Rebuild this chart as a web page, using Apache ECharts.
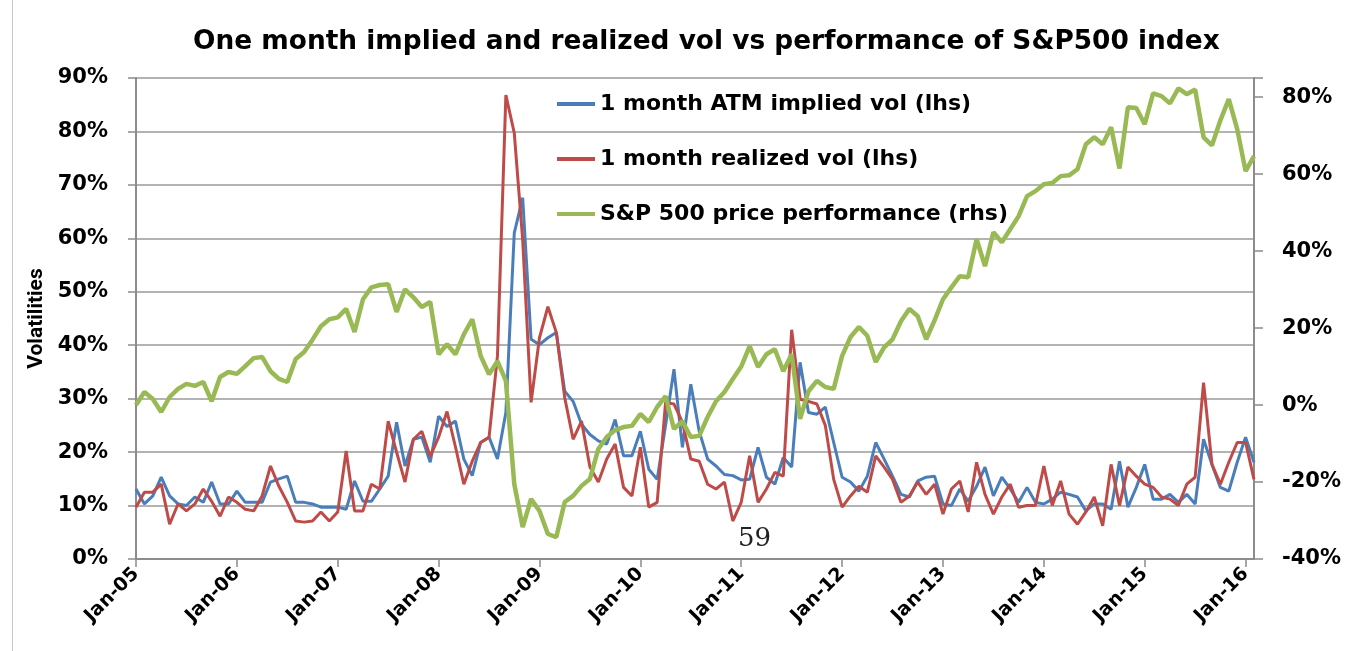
<!DOCTYPE html>
<html>
<head>
<meta charset="utf-8">
<title>Implied vs realized vol</title>
<script src="https://cdn.jsdelivr.net/npm/echarts@6/dist/echarts.min.js"></script>
<style>
  html, body { margin: 0; padding: 0; background: #fff; }
  #chart { width: 1371px; height: 651px; }
</style>
</head>
<body>
<div id="chart"></div>
<script>
// monthly, Jan-05 .. Feb-16
const years = ['05', '06', '07', '08', '09', '10', '11', '12', '13', '14', '15', '16'];
const months = ['Jan', 'Feb', 'Mar', 'Apr', 'May', 'Jun', 'Jul', 'Aug', 'Sep', 'Oct', 'Nov', 'Dec'];
const categories = [];
years.forEach(y => months.forEach(m => categories.push(m + '-' + y)));
categories.length = 134;

const leftTicks = [0, 90, 10];
const rightTicks = [-40, 85, 20];

// 1 month ATM implied vol (lhs), %
const impliedVol = [
  13.1, 10.3, 11.8, 15.3, 11.8, 10.3, 10.0, 11.6, 10.6, 14.4, 10.3, 10.3,
  12.7, 10.6, 10.6, 10.6, 14.4, 15.0, 15.5, 10.6, 10.6, 10.3, 9.7, 9.7,
  9.7, 9.3, 14.6, 10.8, 10.8, 13.1, 15.5, 25.6, 17.4, 22.4, 22.8, 18.1,
  26.7, 24.8, 25.8, 18.7, 15.6, 21.8, 22.8, 18.7, 27.4, 61.0, 67.6, 41.1,
  40.1, 41.4, 42.4, 31.4, 29.5, 25.2, 23.3, 22.1, 21.5, 26.1, 19.3, 19.3,
  23.9, 16.8, 14.9, 25.0, 35.5, 20.9, 32.7, 23.9, 18.7, 17.4, 15.8, 15.6,
  14.8, 14.9, 20.9, 15.3, 14.0, 19.0, 17.2, 36.8, 27.4, 27.1, 28.4, 21.8,
  15.3, 14.4, 12.7, 15.5, 21.8, 18.7, 15.5, 12.1, 11.6, 14.6, 15.3, 15.5,
  10.3, 10.0, 13.1, 10.8, 13.6, 17.2, 11.8, 15.3, 13.1, 10.6, 13.4, 10.6,
  10.3, 11.2, 12.5, 12.1, 11.6, 9.0, 10.3, 10.3, 9.3, 18.3, 9.7, 13.4,
  17.7, 11.2, 11.2, 12.1, 10.6, 12.1, 10.3, 22.4, 17.7, 13.4, 12.7, 18.1,
  22.8, 18.1
];

// 1 month realized vol (lhs), %
const realizedVol = [
  9.7, 12.5, 12.5, 14.0, 6.5, 10.3, 9.0, 10.3, 13.1, 10.8, 8.0, 11.6,
  10.6, 9.3, 9.0, 11.8, 17.4, 13.6, 10.6, 7.1, 6.9, 7.1, 8.8, 7.1,
  8.8, 20.2, 9.0, 9.0, 14.0, 13.1, 25.8, 20.0, 14.4, 22.4, 23.9, 19.2,
  22.8, 27.6, 21.0, 14.0, 18.3, 21.8, 22.8, 38.0, 86.8, 79.7, 59.7, 29.3,
  41.4, 47.2, 42.4, 30.2, 22.4, 25.8, 17.2, 14.4, 18.7, 21.5, 13.4, 11.8,
  20.9, 9.7, 10.6, 29.3, 29.0, 25.6, 18.7, 18.3, 14.0, 13.1, 14.4, 7.1,
  10.6, 19.3, 10.6, 13.1, 16.2, 15.5, 42.9, 29.9, 29.5, 29.0, 25.0, 14.9,
  9.7, 11.8, 13.6, 12.5, 19.3, 17.2, 14.9, 10.6, 11.8, 14.4, 12.1, 14.0,
  8.4, 13.1, 14.6, 8.8, 18.1, 12.1, 8.4, 11.6, 14.0, 9.7, 10.0, 10.0,
  17.4, 10.0, 14.6, 8.4, 6.5, 8.8, 11.6, 6.2, 17.7, 10.0, 17.2, 15.5,
  14.0, 13.4, 11.6, 11.2, 10.0, 14.0, 15.3, 33.0, 17.7, 14.0, 18.1, 21.8,
  21.8, 14.9
];

// S&P 500 price performance (rhs), %
const spxPerf = [
  0.0, 3.4, 1.6, -1.8, 2.1, 4.2, 5.5, 5.0, 6.0, 1.0, 7.3, 8.6,
  8.1, 10.1, 12.2, 12.5, 8.8, 6.8, 6.0, 12.0, 13.8, 17.0, 20.5, 22.3,
  22.8, 25.0, 19.0, 27.5, 30.6, 31.2, 31.4, 24.2, 30.1, 28.0, 25.5, 26.8,
  13.2, 15.8, 13.2, 18.4, 22.3, 12.8, 8.0, 11.4, 6.3, -20.5, -31.7, -24.4,
  -27.5, -33.5, -34.3, -25.2, -23.6, -21.0, -19.2, -11.4, -8.3, -6.5, -5.7, -5.4,
  -2.3, -4.4, -0.5, 2.3, -6.2, -4.2, -8.3, -8.0, -3.1, 1.0, 3.4, 6.8,
  10.0, 15.3, 9.9, 13.2, 14.5, 8.8, 13.2, -3.6, 3.6, 6.3, 4.7, 4.2,
  12.8, 17.7, 20.3, 18.0, 11.2, 15.0, 17.1, 21.8, 25.0, 23.1, 17.1, 22.0,
  27.5, 30.6, 33.5, 33.2, 43.1, 36.1, 44.9, 42.3, 45.7, 49.1, 54.3, 55.6,
  57.4, 57.7, 59.5, 59.7, 61.3, 67.8, 69.6, 67.8, 72.2, 61.5, 77.4, 77.2,
  73.0, 81.0, 80.3, 78.4, 82.3, 80.8, 82.0, 69.6, 67.5, 74.0, 79.5, 71.7,
  60.8, 64.7
];

const seriesNames = [
  '1 month ATM implied vol (lhs)',
  '1 month realized vol (lhs)',
  'S&P 500 price performance (rhs)'
];

const font = 'DejaVu Sans';
const axisGray = '#8c8c8c';

const myChart = echarts.init(document.getElementById('chart'));

const option = {
  animation: false,
  backgroundColor: '#fff',
  title: {
    text: 'One month implied and realized vol vs performance of S&P500 index',
    left: 188,
    top: 24,
    textStyle: { fontFamily: font, fontWeight: 'bold', fontSize: 26.4, color: '#000' }
  },
  legend: {
    orient: 'vertical',
    left: 557,
    top: 91,
    padding: 0,
    icon: 'rect',
    itemWidth: 38,
    itemHeight: 4,
    itemGap: 29,
    textStyle: { fontFamily: font, fontWeight: 'bold', fontSize: 22, color: '#000', lineHeight: 26 },
    data: seriesNames
  },
  grid: {
    left: 136,
    right: 117,
    top: 78,
    bottom: 92
  },
  xAxis: {
    type: 'category',
    boundaryGap: false,
    data: categories,
    axisLine: { lineStyle: { color: axisGray, width: 2 } },
    axisTick: { interval: 11, length: 8, lineStyle: { color: axisGray, width: 1.5 } },
    axisLabel: {
      interval: 11,
      rotate: 45,
      margin: 12,
      fontFamily: font,
      fontWeight: 'bold',
      fontSize: 19,
      color: '#000'
    },
    splitLine: { show: false }
  },
  yAxis: [
    {
      type: 'value',
      min: leftTicks[0],
      max: leftTicks[1],
      interval: leftTicks[2],
      name: 'Volatilities',
      nameLocation: 'middle',
      nameGap: 86,
      nameTextStyle: { fontFamily: 'Roboto', fontWeight: 'bold', fontSize: 21, color: '#000' },
      axisLine: { show: true, lineStyle: { color: axisGray, width: 2 } },
      axisTick: { show: true, length: 8, lineStyle: { color: axisGray, width: 1.5 } },
      axisLabel: {
        formatter: '{value}%',
        margin: 28,
        fontFamily: font,
        fontWeight: 'bold',
        fontSize: 21,
        color: '#000'
      },
      splitLine: { show: true, lineStyle: { color: '#9a9a9a', width: 1.5 } }
    },
    {
      type: 'value',
      min: rightTicks[0],
      max: rightTicks[1],
      interval: rightTicks[2],
      position: 'right',
      axisLine: { show: true, lineStyle: { color: axisGray, width: 2 } },
      axisTick: { show: true, length: 9, lineStyle: { color: axisGray, width: 1.5 } },
      axisLabel: {
        formatter: v => (v % 20 === 0 ? v + '%' : ''),
        margin: 28,
        fontFamily: font,
        fontWeight: 'bold',
        fontSize: 21,
        color: '#000'
      },
      splitLine: { show: false }
    }
  ],
  series: [
    {
      name: seriesNames[0],
      type: 'line',
      yAxisIndex: 0,
      symbol: 'none',
      color: '#4a7ebb',
      lineStyle: { width: 3 },
      data: impliedVol
    },
    {
      name: seriesNames[1],
      type: 'line',
      yAxisIndex: 0,
      symbol: 'none',
      color: '#be4b48',
      lineStyle: { width: 3 },
      data: realizedVol
    },
    {
      name: seriesNames[2],
      type: 'line',
      yAxisIndex: 1,
      symbol: 'none',
      color: '#98b954',
      lineStyle: { width: 4.5 },
      data: spxPerf
    }
  ],
  graphic: [
    {
      type: 'line',
      shape: { x1: 12.5, y1: 0, x2: 12.5, y2: 651 },
      style: { stroke: '#c8c8c8', lineWidth: 1 }
    },
    {
      type: 'text',
      left: 738,
      top: 526,
      style: { text: '59', fontFamily: 'DejaVu Serif', fontSize: 26, fill: '#222' }
    }
  ]
};

myChart.setOption(option);

window.addEventListener('resize', () => {
  myChart.resize();
});
</script>
</body>
</html>
